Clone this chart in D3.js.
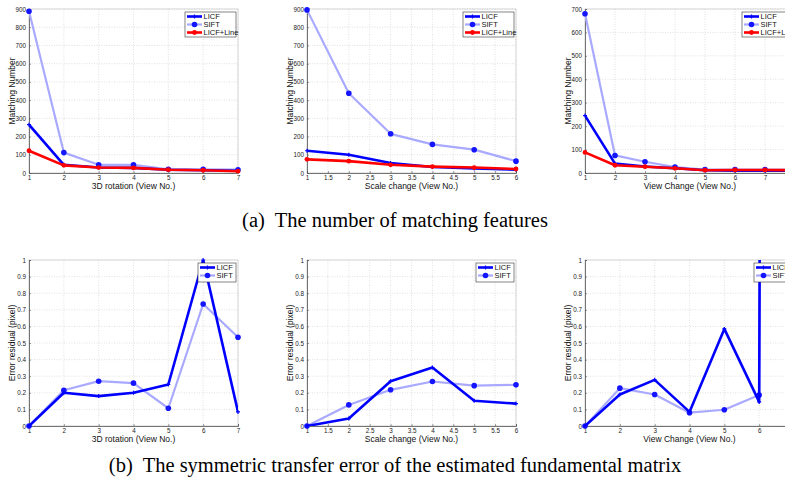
<!DOCTYPE html>
<meta charset="utf-8">
<style>
  body { margin: 0; background: #fff; }
  text { font-family: "Liberation Sans", Arial, sans-serif; }
  .caption { font-family: "Liberation Serif", "Times New Roman", serif; font-size: 20.5px; white-space: pre; }
  .grid line { stroke: #d4d4d4; stroke-dasharray: 1,1.5; stroke-width: 0.7; }
</style>
<body>
<script src="https://cdn.jsdelivr.net/npm/d3@7"></script>
<script>

var width = 785,
    height = 485;

// x values (view numbers)
var rotViews = [1, 2, 3, 4, 5, 6, 7];
var scaleViews = [1, 2, 3, 4, 5, 6];
var changeViewsA = [1, 2, 3, 4, 5, 6, 7, 8];
var changeViewsB = [1, 2, 3, 4, 5, 6, 7];

// (a) matching numbers
var rotLicf = [265, 45, 30, 28, 18, 15, 12];
var rotSift = [888, 112, 45, 45, 20, 20, 18];
var rotLine = [122, 42, 30, 28, 18, 15, 10];

var scaleLicf = [122, 100, 55, 33, 25, 18];
var scaleSift = [895, 438, 215, 157, 128, 65];
var scaleLine = [75, 65, 45, 35, 30, 22];

var changeLicf = [245, 40, 28, 20, 12, 10, 10, 10];
var changeSift = [680, 75, 48, 25, 15, 15, 15, 15];
var changeLine = [88, 33, 27, 20, 12, 13, 13, 12];

// (b) error residuals
var rotErrLicf = [0, 0.20, 0.18, 0.20, 0.25, 1.0, 0.085];
var rotErrSift = [0, 0.215, 0.27, 0.258, 0.107, 0.735, 0.535];

var scaleErrLicf = [0, 0.045, 0.27, 0.352, 0.152, 0.135];
var scaleErrSift = [0, 0.127, 0.218, 0.268, 0.243, 0.248];

var changeErrLicf = [0, 0.19, 0.278, 0.085, 0.585, 0.145, 60];
var changeErrSift = [0, 0.228, 0.19, 0.08, 0.098, 0.187, 60];

// tick labels
var countTicks900 = [0, 100, 200, 300, 400, 500, 600, 700, 800, 900];
var countTicks700 = [0, 100, 200, 300, 400, 500, 600, 700];
var errTicks = [0, 0.1, 0.2, 0.3, 0.4, 0.5, 0.6, 0.7, 0.8, 0.9, 1];
var halfTicks = [1, 1.5, 2, 2.5, 3, 3.5, 4, 4.5, 5, 5.5, 6];

var styles = {
    "LICF": { color: "#0000ff", width: 2.6, marker: "plus" },
    "SIFT": { color: "#a9a9ff", width: 2.2, marker: "dot" },
    "LICF+Line": { color: "#ff0000", width: 2.6, marker: "square" }
};

var svg = d3.select("body").append("svg")
    .attr("width", width)
    .attr("height", height);

var clipId = 0;

function drawPanel(p) {
    var x = d3.scaleLinear().domain(p.xDomain).range([p.left, p.left + p.w]);
    var y = d3.scaleLinear().domain(p.yDomain).range([p.top + p.h, p.top]);
    var g = svg.append("g");

    // grid
    var grid = g.append("g").attr("class", "grid");
    grid.selectAll(".gx").data(p.xTicks).enter().append("line")
        .attr("x1", function(d) { return x(d); }).attr("x2", function(d) { return x(d); })
        .attr("y1", p.top).attr("y2", p.top + p.h);
    grid.selectAll(".gy").data(p.yTicks).enter().append("line")
        .attr("x1", p.left).attr("x2", p.left + p.w)
        .attr("y1", function(d) { return y(d); }).attr("y2", function(d) { return y(d); });

    // frame
    g.append("rect")
        .attr("x", p.left).attr("y", p.top).attr("width", p.w).attr("height", p.h)
        .attr("fill", "none").attr("stroke", "#bfbfbf").attr("stroke-width", 0.6);

    // axes
    var xAxis = d3.axisBottom(x).tickValues(p.xTicks).tickSize(-2).tickPadding(2.5)
        .tickFormat(d3.format("~g"));
    var yAxis = d3.axisLeft(y).tickValues(p.yTicks).tickSize(-2).tickPadding(3)
        .tickFormat(d3.format("~g"));
    var gx = g.append("g").attr("transform", "translate(0," + (p.top + p.h) + ")").call(xAxis);
    var gy = g.append("g").attr("transform", "translate(" + p.left + ",0)").call(yAxis);
    [gx, gy].forEach(function(a) {
        a.select(".domain").attr("stroke", "#555").attr("stroke-width", 0.8);
        a.selectAll(".tick line").attr("stroke", "#555").attr("stroke-width", 0.6);
        a.selectAll("text").attr("font-size", 6.3).attr("fill", "#222")
            .attr("font-family", "Liberation Sans, Arial, sans-serif");
    });

    // axis labels
    g.append("text")
        .attr("x", p.left + p.w / 2).attr("y", p.top + p.h + 15.5)
        .attr("text-anchor", "middle").attr("font-size", 8.5).attr("fill", "#111")
        .text(p.xLabel);
    g.append("text")
        .attr("transform", "translate(" + (p.left - 14) + "," + (p.top + p.h / 2) + ") rotate(-90)")
        .attr("text-anchor", "middle").attr("font-size", 8.5).attr("fill", "#111")
        .text(p.yLabel);

    // clips: markers may sit on the frame, lines stay inside
    clipId++;
    svg.append("clipPath").attr("id", "clip" + clipId)
        .append("rect").attr("x", p.left - 5).attr("y", p.top - 5)
        .attr("width", p.w + 10).attr("height", p.h + 10);
    svg.append("clipPath").attr("id", "lclip" + clipId)
        .append("rect").attr("x", p.left).attr("y", p.top)
        .attr("width", p.w).attr("height", p.h);

    var line = d3.line()
        .x(function(d) { return x(d[0]); })
        .y(function(d) { return y(d[1]); });

    p.series.forEach(function(s) {
        var st = styles[s.name];
        var pts = p.xs.map(function(v, i) { return [v, s.values[i]]; });
        var sg = g.append("g").attr("clip-path", "url(#lclip" + clipId + ")");
        sg.append("path").datum(pts)
            .attr("d", line)
            .attr("fill", "none")
            .attr("stroke", st.color)
            .attr("stroke-width", st.width)
            .attr("stroke-linejoin", "round");
        var mg = g.append("g").attr("clip-path", "url(#clip" + clipId + ")");
        drawMarkers(mg, pts.filter(function(d) { return d[1] <= p.yDomain[1]; }).map(function(d) {
            return [x(d[0]), y(d[1])];
        }), st);
    });

    // legend
    var names = p.legend;
    var lw = names.length === 3 ? 51 : 38,
        lh = names.length === 3 ? 25 : 19;
    var lx = p.left + p.w - lw - 2,
        ly = p.top + 3;
    var lg = g.append("g");
    lg.append("rect").attr("x", lx).attr("y", ly).attr("width", lw).attr("height", lh)
        .attr("fill", "#fff").attr("stroke", "#333").attr("stroke-width", 0.6);
    names.forEach(function(n, i) {
        var st = styles[n];
        var yy = ly + 4.5 + i * 8;
        lg.append("line").attr("x1", lx + 2).attr("x2", lx + 17)
            .attr("y1", yy).attr("y2", yy)
            .attr("stroke", st.color).attr("stroke-width", st.width);
        drawMarkers(lg, [[lx + 9.5, yy]], st);
        lg.append("text").attr("x", lx + 18.5).attr("y", yy + 2.6)
            .attr("font-size", 7.5).attr("fill", "#111").text(n);
    });
}

function drawMarkers(sel, pts, st) {
    if (st.marker === "dot") {
        sel.selectAll(null).data(pts).enter().append("circle")
            .attr("cx", function(d) { return d[0]; }).attr("cy", function(d) { return d[1]; })
            .attr("r", 2.8).attr("fill", "#1414ff");
    } else if (st.marker === "square") {
        sel.selectAll(null).data(pts).enter().append("circle")
            .attr("cx", function(d) { return d[0]; }).attr("cy", function(d) { return d[1]; })
            .attr("r", 2.4).attr("fill", "#ff0000");
    } else {
        sel.selectAll(null).data(pts).enter().append("path")
            .attr("d", function(d) {
                return "M" + (d[0] - 2) + "," + d[1] + "h4M" + d[0] + "," + (d[1] - 2) + "v4";
            })
            .attr("stroke", st.color).attr("stroke-width", 1.2);
    }
}

var topRow = { top: 9, h: 164 },
    botRow = { top: 260, h: 166 };
var legend3 = ["LICF", "SIFT", "LICF+Line"],
    legend2 = ["LICF", "SIFT"];

drawPanel({
    left: 29, w: 209, top: topRow.top, h: topRow.h,
    xDomain: [1, 7], yDomain: [0, 900], xTicks: rotViews, yTicks: countTicks900, xs: rotViews,
    xLabel: "3D rotation (View No.)", yLabel: "Matching Number", legend: legend3,
    series: [{ name: "SIFT", values: rotSift }, { name: "LICF", values: rotLicf }, { name: "LICF+Line", values: rotLine }]
});
drawPanel({
    left: 307, w: 209, top: topRow.top, h: topRow.h,
    xDomain: [1, 6], yDomain: [0, 900], xTicks: halfTicks, yTicks: countTicks900, xs: scaleViews,
    xLabel: "Scale change (View No.)", yLabel: "Matching Number", legend: legend3,
    series: [{ name: "SIFT", values: scaleSift }, { name: "LICF", values: scaleLicf }, { name: "LICF+Line", values: scaleLine }]
});
drawPanel({
    left: 585, w: 210, top: topRow.top, h: topRow.h,
    xDomain: [1, 8], yDomain: [0, 700], xTicks: changeViewsA, yTicks: countTicks700, xs: changeViewsA,
    xLabel: "View Change (View No.)", yLabel: "Matching Number", legend: legend3,
    series: [{ name: "SIFT", values: changeSift }, { name: "LICF", values: changeLicf }, { name: "LICF+Line", values: changeLine }]
});
drawPanel({
    left: 29, w: 209, top: botRow.top, h: botRow.h,
    xDomain: [1, 7], yDomain: [0, 1], xTicks: rotViews, yTicks: errTicks, xs: rotViews,
    xLabel: "3D rotation (View No.)", yLabel: "Error residual (pixel)", legend: legend2,
    series: [{ name: "SIFT", values: rotErrSift }, { name: "LICF", values: rotErrLicf }]
});
drawPanel({
    left: 307, w: 209, top: botRow.top, h: botRow.h,
    xDomain: [1, 6], yDomain: [0, 1], xTicks: halfTicks, yTicks: errTicks, xs: scaleViews,
    xLabel: "Scale change (View No.)", yLabel: "Error residual (pixel)", legend: legend2,
    series: [{ name: "SIFT", values: scaleErrSift }, { name: "LICF", values: scaleErrLicf }]
});
drawPanel({
    left: 585, w: 209, top: botRow.top, h: botRow.h,
    xDomain: [1, 7], yDomain: [0, 1], xTicks: changeViewsB, yTicks: errTicks, xs: changeViewsB,
    xLabel: "View Change (View No.)", yLabel: "Error residual (pixel)", legend: legend2,
    series: [{ name: "SIFT", values: changeErrSift }, { name: "LICF", values: changeErrLicf }]
});

svg.append("text").attr("class", "caption")
    .attr("x", 395).attr("y", 227).attr("text-anchor", "middle")
    .text("(a)  The number of matching features");
svg.append("text").attr("class", "caption")
    .attr("x", 395).attr("y", 472).attr("text-anchor", "middle")
    .text("(b)  The symmetric transfer error of the estimated fundamental matrix");

</script>
